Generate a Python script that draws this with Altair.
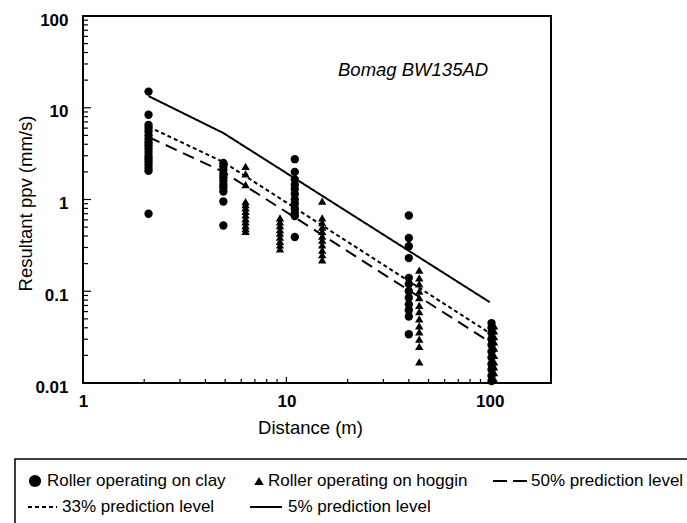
import altair as alt
import pandas as pd

FONT = "Liberation Sans"

# ---------------- data ----------------
clay_dist = [2.1, 4.9, 11, 40, 102]
hoggin_dist = [6.3, 9.3, 15, 45, 105]

clay_2m = [15, 8.4, 6.5, 6.0, 5.5, 5.0, 4.6, 4.2, 3.9, 3.6, 3.3, 3.0, 2.8, 2.6, 2.4, 2.2, 2.05, 0.7]
clay_5m = [2.5, 2.3, 2.1, 1.9, 1.75, 1.6, 1.45, 1.35, 1.22, 0.95, 0.52]
clay_11m = [2.75, 2.0, 1.65, 1.45, 1.3, 1.15, 1.0, 0.9, 0.8, 0.72, 0.66, 0.39]
clay_40m = [0.67, 0.38, 0.31, 0.23, 0.14, 0.12, 0.1, 0.085, 0.072, 0.062, 0.053, 0.034]
clay_100m = [0.045, 0.04, 0.035, 0.03, 0.026, 0.022, 0.019, 0.016, 0.014, 0.012, 0.0105]

hoggin_6m = [2.3, 1.9, 1.45, 0.95, 0.88, 0.81, 0.74, 0.68, 0.62, 0.57, 0.52, 0.48, 0.45]
hoggin_9m = [0.63, 0.57, 0.52, 0.47, 0.43, 0.39, 0.35, 0.32, 0.29]
hoggin_15m = [0.96, 0.63, 0.56, 0.5, 0.45, 0.4, 0.36, 0.32, 0.28, 0.25, 0.22]
hoggin_45m = [0.17, 0.14, 0.12, 0.1, 0.085, 0.07, 0.06, 0.05, 0.042, 0.036, 0.03, 0.025, 0.017]
hoggin_100m = [0.042, 0.037, 0.032, 0.028, 0.024, 0.02, 0.017, 0.015, 0.013, 0.011]

pred_dist = [2.1, 4.9, 100]
pred_50 = [4.8, 2.0, 0.028]
pred_33 = [6.2, 2.56, 0.035]
pred_5 = [13.4, 5.3, 0.076]

x_major = [1, 10, 100]
y_major = [0.01, 0.1, 1, 10, 100]
x_minor = [2, 3, 4, 5, 6, 7, 8, 9, 20, 30, 40, 50, 60, 70, 80, 90, 200]
y_minor = [0.02, 0.03, 0.04, 0.05, 0.06, 0.07, 0.08, 0.09,
           0.2, 0.3, 0.4, 0.5, 0.6, 0.7, 0.8, 0.9,
           2, 3, 4, 5, 6, 7, 8, 9,
           20, 30, 40, 50, 60, 70, 80, 90]

legend_labels = ["Roller operating on clay", "Roller operating on hoggin",
                 "50% prediction level", "33% prediction level", "5% prediction level"]
annotation = "Bomag BW135AD"

# ---------------- tables ----------------
rows = []
for d, vals in zip(clay_dist, [clay_2m, clay_5m, clay_11m, clay_40m, clay_100m]):
    rows += [{"distance": d, "ppv": v, "soil": "clay"} for v in vals]
for d, vals in zip(hoggin_dist, [hoggin_6m, hoggin_9m, hoggin_15m, hoggin_45m, hoggin_100m]):
    rows += [{"distance": d, "ppv": v, "soil": "hoggin"} for v in vals]
pts = pd.DataFrame(rows)

lines = pd.concat([
    pd.DataFrame({"distance": pred_dist, "ppv": pred_50, "level": "50%"}),
    pd.DataFrame({"distance": pred_dist, "ppv": pred_33, "level": "33%"}),
    pd.DataFrame({"distance": pred_dist, "ppv": pred_5, "level": "5%"}),
])

xs = alt.Scale(type="log", domain=[1, 200], nice=False)
ys = alt.Scale(type="log", domain=[0.01, 100], nice=False)

X_AXIS = alt.Axis(values=x_major, format="~g", title="Distance (m)", grid=False,
                  ticks=False, tickSize=0, domain=False, labelPadding=10,
                  labelFont=FONT, labelFontSize=17, labelFontWeight="bold",
                  labelFlush=False, labelOverlap=False, labelColor="black",
                  titleFont=FONT, titleFontSize=18.5, titleFontWeight="normal",
                  titleColor="black", titleX=227, titleY=44,
                  titleAlign="center", titleBaseline="middle")
Y_AXIS = alt.Axis(values=y_major, format="~g", title="Resultant ppv (mm/s)", grid=False,
                  ticks=False, tickSize=0, domain=False, labelPadding=15, labelOffset=4,
                  labelFont=FONT, labelFontSize=17, labelFontWeight="bold",
                  labelFlush=False, labelOverlap=False, labelColor="black",
                  titleFont=FONT, titleFontSize=18.5, titleFontWeight="normal",
                  titleColor="black", titleX=-58, titleY=187, titleAngle=270,
                  titleAlign="center", titleBaseline="middle")


def X(field="distance"):
    return alt.X(f"{field}:Q", scale=xs, axis=X_AXIS)


def Y(field="ppv"):
    return alt.Y(f"{field}:Q", scale=ys, axis=Y_AXIS)


points = alt.Chart(pts).mark_point(filled=True, color="black", opacity=1, size=70).encode(
    x=X(), y=Y(),
    shape=alt.Shape("soil:N", scale=alt.Scale(domain=["clay", "hoggin"],
                                              range=["circle", "triangle-up"]), legend=None),
)

pred = alt.Chart(lines).mark_line(color="black", strokeWidth=2).encode(
    x=X(), y=Y(),
    detail="level:N",
    strokeDash=alt.StrokeDash("level:N", scale=alt.Scale(domain=["50%", "33%", "5%"],
                                                         range=[[12, 7], [4, 3], [1, 0]]),
                              legend=None),
)

# inward ticks
yt_major = alt.Chart(pd.DataFrame({"ppv": y_major})).mark_rule(color="black", strokeWidth=1.2).encode(
    y=Y(), x=alt.value(0), x2=alt.value(8))
yt_minor = alt.Chart(pd.DataFrame({"ppv": y_minor})).mark_rule(color="black", strokeWidth=1.2).encode(
    y=Y(), x=alt.value(0), x2=alt.value(5))
xt_major = alt.Chart(pd.DataFrame({"distance": x_major})).mark_rule(color="black", strokeWidth=1.2).encode(
    x=X(), y=alt.value(367), y2=alt.value(361))
xt_minor = alt.Chart(pd.DataFrame({"distance": x_minor})).mark_rule(color="black", strokeWidth=1.2).encode(
    x=X(), y=alt.value(367), y2=alt.value(363))

note = alt.Chart(pd.DataFrame({"t": [annotation]})).mark_text(
    font=FONT, fontSize=18.5, fontStyle="italic", align="left", baseline="middle", color="black"
).encode(text="t:N", x=alt.value(255), y=alt.value(54))

# ---------------- legend box ----------------
one = pd.DataFrame({"a": [0]})
box = alt.Chart(one).mark_rect(fill=None, stroke="black", strokeWidth=1.5).encode(
    x=alt.value(-68), x2=alt.value(640), y=alt.value(443), y2=alt.value(540))

R1, R2 = 465, 491
leg_circle = alt.Chart(one).mark_point(shape="circle", filled=True, color="black", opacity=1, size=150).encode(
    x=alt.value(-48), y=alt.value(R1))
leg_tri = alt.Chart(one).mark_point(shape="triangle-up", filled=True, color="black", opacity=1, size=90).encode(
    x=alt.value(176), y=alt.value(R1))
leg_dash = alt.Chart(one).mark_rule(color="black", strokeWidth=2, strokeDash=[14, 6]).encode(
    x=alt.value(410), x2=alt.value(445), y=alt.value(R1))
leg_dot = alt.Chart(one).mark_rule(color="black", strokeWidth=2, strokeDash=[4, 3]).encode(
    x=alt.value(-55), x2=alt.value(-26), y=alt.value(R2))
leg_solid = alt.Chart(one).mark_rule(color="black", strokeWidth=2).encode(
    x=alt.value(167), x2=alt.value(199), y=alt.value(R2))


def leg_text(label, x, y):
    return alt.Chart(pd.DataFrame({"t": [label]})).mark_text(
        font=FONT, fontSize=17, align="left", baseline="middle", color="black"
    ).encode(text="t:N", x=alt.value(x), y=alt.value(y))


texts = [leg_text(legend_labels[0], -36, R1), leg_text(legend_labels[1], 185, R1),
         leg_text(legend_labels[2], 448, R1), leg_text(legend_labels[3], -21, R2),
         leg_text(legend_labels[4], 205, R2)]

chart = alt.layer(
    points, pred, yt_major, yt_minor, xt_major, xt_minor, note,
    box, leg_circle, leg_tri, leg_dash, leg_dot, leg_solid, *texts
).properties(
    width=468, height=367,
    autosize=alt.AutoSizeParams(type="none"),
    padding={"left": 83, "top": 16, "right": 136, "bottom": 140},
    background="white",
).configure_view(stroke="black", strokeWidth=2)

chart.save("out.html", embed_options={"renderer": "svg", "actions": False})
